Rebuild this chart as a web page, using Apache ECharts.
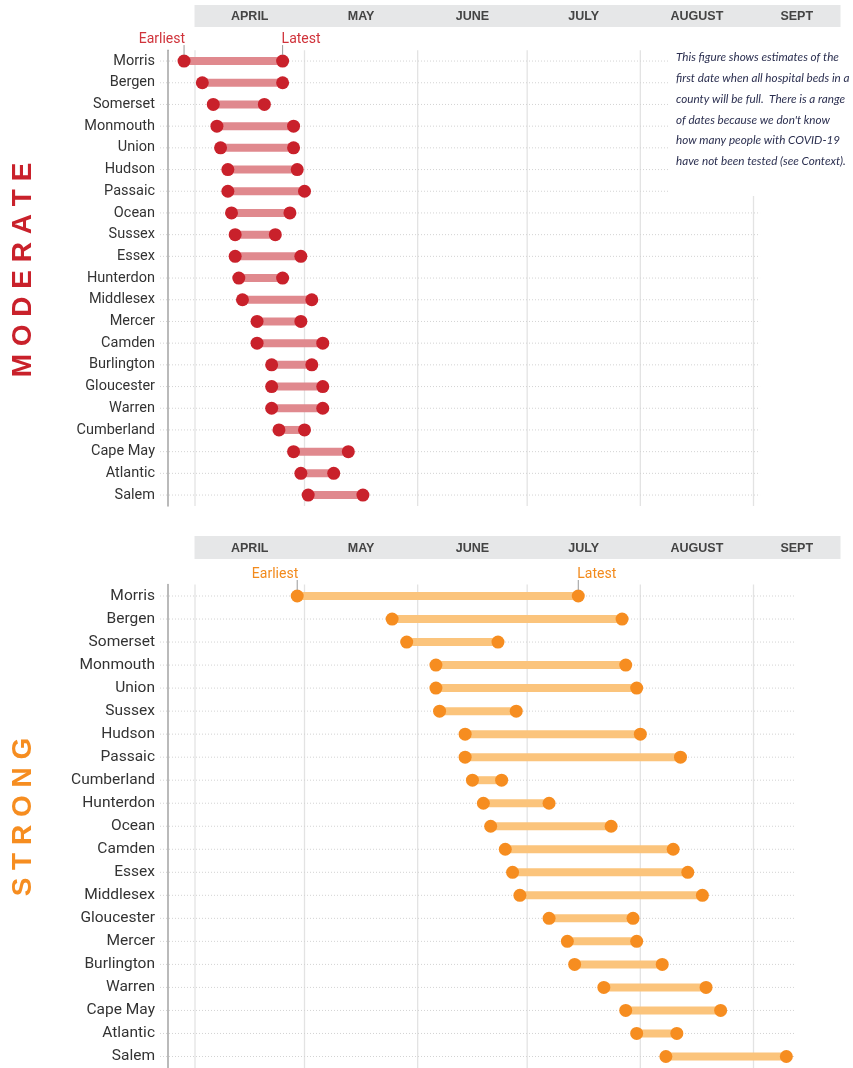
<!DOCTYPE html>
<html>
<head>
<meta charset="utf-8">
<title>When will hospital beds be full</title>
<script src="https://cdn.jsdelivr.net/npm/echarts@6/dist/echarts.min.js"></script>
<style>
  html, body { margin: 0; padding: 0; background: #fff; }
  #main { width: 853px; height: 1068px; }
</style>
</head>
<body>
<div id="main"></div>
<script>
// dates are in 2020, written MM-DD
const moderateCounties = ['Morris', 'Bergen', 'Somerset', 'Monmouth', 'Union', 'Hudson', 'Passaic', 'Ocean', 'Sussex', 'Essex', 'Hunterdon',
  'Middlesex', 'Mercer', 'Camden', 'Burlington', 'Gloucester', 'Warren', 'Cumberland', 'Cape May', 'Atlantic', 'Salem']
const moderateEarliest = ['03-29', '04-03', '04-06', '04-07', '04-08', '04-10', '04-10', '04-11', '04-12', '04-12', '04-13',
  '04-14', '04-18', '04-18', '04-22', '04-22', '04-22', '04-24', '04-28', '04-30', '05-02']
const moderateLatest = ['04-25', '04-25', '04-20', '04-28', '04-28', '04-29', '05-01', '04-27', '04-23', '04-30', '04-25',
  '05-03', '04-30', '05-06', '05-03', '05-06', '05-06', '05-01', '05-13', '05-09', '05-17']

const strongCounties = ['Morris', 'Bergen', 'Somerset', 'Monmouth', 'Union', 'Sussex', 'Hudson', 'Passaic', 'Cumberland', 'Hunterdon', 'Ocean',
  'Camden', 'Essex', 'Middlesex', 'Gloucester', 'Mercer', 'Burlington', 'Warren', 'Cape May', 'Atlantic', 'Salem']
const strongEarliest = ['04-29', '05-25', '05-29', '06-06', '06-06', '06-07', '06-14', '06-14', '06-16', '06-19', '06-21',
  '06-25', '06-27', '06-29', '07-07', '07-12', '07-14', '07-22', '07-28', '07-31', '08-08']
const strongLatest = ['07-15', '07-27', '06-23', '07-28', '07-31', '06-28', '08-01', '08-12', '06-24', '07-07', '07-24',
  '08-10', '08-14', '08-18', '07-30', '07-31', '08-07', '08-19', '08-23', '08-11', '09-10']

const monthLabels = ['APRIL', 'MAY', 'JUNE', 'JULY', 'AUGUST', 'SEPT']
const monthStarts = ['04-01', '05-01', '06-01', '07-01', '08-01', '09-01']

const note = 'This figure shows estimates of the\nfirst date when all hospital beds in a\ncounty will be full.  There is a range\n' +
  'of dates because we don\'t know\nhow many people with COVID-19\nhave not been tested (see Context).'

// days since April 1
function toDay(md) {
  const [m, d] = md.split('-').map(Number)
  return (Date.UTC(2020, m - 1, d) - Date.UTC(2020, 3, 1)) / 86400000
}

const RED = '#c9212b', RED_LINE = '#e0898e'
const ORANGE = '#f68d20', ORANGE_LINE = '#fbc47c'
const X_MIN = -9.59, X_MAX = 176.7
const starts = monthStarts.map(toDay)

const labelFont = 'Roboto, sans-serif'

function renderHeader(params, api) {
  const x0 = api.coord([api.value(0), 0])[0]
  const x1 = api.coord([api.value(1), 0])[0]
  const cs = params.coordSys
  return {
    type: 'group',
    children: [
      { type: 'rect', shape: { x: x0 - 0.5, y: cs.y, width: x1 - x0 + 1, height: cs.height }, style: { fill: '#e6e7e8' } },
      { type: 'text', style: { text: monthLabels[params.dataIndex], x: (x0 + x1) / 2, y: cs.y + cs.height / 2 + 1,
        align: 'center', verticalAlign: 'middle', font: 'bold 12.5px "Liberation Sans", Arial, sans-serif', fill: '#444' } }
    ]
  }
}

// vertical month lines
function renderMonthLine(params, api) {
  const x = api.coord([api.value(0), 0])[0]
  const cs = params.coordSys
  return { type: 'line', shape: { x1: x, y1: cs.y, x2: x, y2: cs.y + cs.height },
    style: { stroke: '#e3e3e3', lineWidth: 1.3 } }
}

function renderRow(params, api) {
  const a = api.coord([X_MIN, api.value(1)])
  const b = api.coord([api.value(0), api.value(1)])
  return { type: 'line', shape: { x1: a[0], y1: a[1], x2: b[0], y2: b[1] },
    style: { stroke: '#d3d3d3', lineWidth: 1, lineDash: [1, 2] } }
}

function rangeRenderer(color) {
  return function (params, api) {
    const a = api.coord([api.value(0), api.value(2)])
    const b = api.coord([api.value(1), api.value(2)])
    return { type: 'line', shape: { x1: a[0], y1: a[1], x2: b[0], y2: b[1] }, style: { stroke: color, lineWidth: 8 } }
  }
}

function calloutRenderer(color) {
  return function (params, api) {
    const p = api.coord([api.value(0), api.value(1)])
    const first = params.dataIndex === 0
    return {
      type: 'group',
      children: [
        { type: 'line', shape: { x1: p[0], y1: p[1] - 16, x2: p[0], y2: p[1] - 6 }, style: { stroke: '#9a9a9a', lineWidth: 1 } },
        { type: 'text', style: { text: first ? 'Earliest' : 'Latest', x: p[0] + (first ? 1 : -1), y: p[1] - 15,
          align: first ? 'right' : 'left', verticalAlign: 'bottom', font: '14px ' + labelFont, fill: color } }
      ]
    }
  }
}

function buildPanel(idx, counties, earliest, latest, dot, line, rowEnd) {
  const e = earliest.map(toDay), l = latest.map(toDay)
  const x = idx * 2 + 1
  return [
    { type: 'custom', xAxisIndex: idx * 2, yAxisIndex: idx * 2, renderItem: renderHeader,
      data: starts.map((s, i) => [s, i < starts.length - 1 ? starts[i + 1] : X_MAX]), encode: { x: [0, 1] }, silent: true },
    { type: 'custom', xAxisIndex: x, yAxisIndex: x, renderItem: renderMonthLine, z: 1, silent: true,
      data: starts.map(s => [s, 0]), encode: { x: 0, y: 1 } },
    { type: 'custom', xAxisIndex: x, yAxisIndex: x, renderItem: renderRow, z: 1, silent: true,
      data: counties.map((c, i) => [rowEnd, i]), encode: { x: 0, y: 1 } },
    { type: 'custom', xAxisIndex: x, yAxisIndex: x, renderItem: rangeRenderer(line), z: 2,
      data: counties.map((c, i) => [e[i], l[i], i]), encode: { x: [0, 1], y: 2 } },
    { type: 'scatter', xAxisIndex: x, yAxisIndex: x, symbolSize: 13, z: 3, itemStyle: { color: dot, opacity: 1 },
      data: e.map((v, i) => [v, i]) },
    { type: 'scatter', xAxisIndex: x, yAxisIndex: x, symbolSize: 13, z: 3, itemStyle: { color: dot, opacity: 1 },
      data: l.map((v, i) => [v, i]) },
    { type: 'custom', xAxisIndex: x, yAxisIndex: x, renderItem: calloutRenderer(dot === RED ? '#d0333b' : '#f28a1c'), z: 4,
      data: [[e[0], 0], [l[0], 0]], encode: { x: 0, y: 1 }, silent: true }
  ]
}

const hiddenX = { type: 'value', min: X_MIN, max: X_MAX, show: false, splitLine: { show: false } }
function catY(gridIndex, counties, fontSize) {
  return {
    type: 'category', gridIndex, data: counties, inverse: true, offset: -8,
    axisLine: { show: true, onZero: false, lineStyle: { color: '#a3a3a3', width: 1.5 } },
    axisTick: { show: false }, splitLine: { show: false },
    axisLabel: { margin: 13, color: '#333', fontSize, fontFamily: labelFont }
  }
}

const chart = echarts.init(document.getElementById('main'))
chart.setOption({
  animation: false,
  grid: [
    { left: 160, right: 13, top: 5, height: 22 },
    { left: 160, right: 13, top: 50.2, height: 455.7 },
    { left: 160, right: 13, top: 536, height: 23 },
    { left: 160, right: 13, top: 584.5, height: 485 }
  ],
  xAxis: [0, 1, 2, 3].map(g => Object.assign({ gridIndex: g }, hiddenX)),
  yAxis: [
    { type: 'value', gridIndex: 0, min: 0, max: 1, show: false },
    catY(1, moderateCounties, 14.5),
    { type: 'value', gridIndex: 2, min: 0, max: 1, show: false },
    catY(3, strongCounties, 15.5)
  ],
  series: [
    ...buildPanel(0, moderateCounties, moderateEarliest, moderateLatest, RED, RED_LINE, 154.8),
    ...buildPanel(1, strongCounties, strongEarliest, strongLatest, ORANGE, ORANGE_LINE, 164.6)
  ],
  graphic: [
    { type: 'rect', z: 50, shape: { x: 669, y: 46, width: 184, height: 150 }, style: { fill: '#fff' } },
    { type: 'text', z: 51, x: 676, y: 47,
      style: { text: note, font: 'italic 11.7px Lato, sans-serif', lineHeight: 20.8, fill: '#2b2f50' } },
    { type: 'text', z: 51, x: 23, y: 270, rotation: Math.PI / 2,
      style: { text: 'M O D E R A T E', align: 'center', verticalAlign: 'middle',
        font: 'bold 28px "Liberation Sans", Arial, sans-serif', fill: RED } },
    { type: 'text', z: 51, x: 23, y: 817, rotation: Math.PI / 2,
      style: { text: 'S T R O N G', align: 'center', verticalAlign: 'middle',
        font: 'bold 28px "Liberation Sans", Arial, sans-serif', fill: ORANGE } }
  ]
})
</script>
</body>
</html>
